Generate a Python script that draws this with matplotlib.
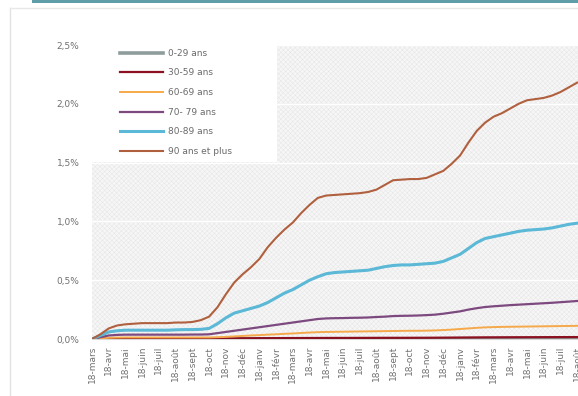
import numpy as np
import matplotlib
matplotlib.use("Agg")
import matplotlib.pyplot as plt
from matplotlib.patches import Rectangle
from matplotlib.lines import Line2D
from matplotlib.ticker import FuncFormatter

# x positions in "tick units" (one tick per label), half-tick resolution
t = np.arange(0, 29.5, 0.5)

months = ["mars", "avr", "mai", "juin", "juil", "août", "sept", "oct", "nov", "déc",
          "janv", "févr"]
tick_labels = ["18-" + months[i % 12] for i in range(30)]

series_names = ["0-29 ans", "30-59 ans", "60-69 ans", "70- 79 ans", "80-89 ans", "90 ans et plus"]
series_colors = ["#8e9c9c", "#8b1020", "#f5a94a", "#7d4a80", "#5bb8d6", "#b0603e"]
series_widths = [2.6, 1.6, 1.4, 1.6, 2.2, 1.5]

# values in % of the age group
v_0_29 = [0.0] + [0.0004] * 58

v_30_59 = [0, 0.002, 0.003, 0.004, 0.004, 0.004, 0.004, 0.004, 0.004, 0.004,
           0.004, 0.004, 0.004, 0.004, 0.004, 0.0045, 0.005, 0.0055, 0.006, 0.0065,
           0.007, 0.0072, 0.0075, 0.0078, 0.008, 0.0082, 0.0084, 0.0086, 0.0088, 0.009,
           0.009, 0.0092, 0.0094, 0.0096, 0.0098, 0.01, 0.01, 0.01, 0.0102, 0.0104,
           0.0106, 0.011, 0.0115, 0.012, 0.0125, 0.013, 0.0135, 0.014, 0.0142, 0.0145,
           0.0148, 0.015, 0.0152, 0.0154, 0.0156, 0.0158, 0.016, 0.0162, 0.0164]

v_60_69 = [0, 0.005, 0.01, 0.012, 0.013, 0.013, 0.013, 0.013, 0.013, 0.013,
           0.013, 0.013, 0.013, 0.013, 0.013, 0.015, 0.018, 0.022, 0.026, 0.03,
           0.033, 0.037, 0.04, 0.044, 0.047, 0.051, 0.055, 0.058, 0.06, 0.061,
           0.062, 0.063, 0.064, 0.065, 0.066, 0.067, 0.068, 0.069, 0.07, 0.07,
           0.071, 0.073, 0.076, 0.08, 0.085, 0.09, 0.095, 0.099, 0.101, 0.103,
           0.104, 0.105, 0.106, 0.107, 0.108, 0.109, 0.11, 0.111, 0.112]

v_70_79 = [0, 0.015, 0.03, 0.035, 0.037, 0.037, 0.037, 0.037, 0.037, 0.037,
           0.037, 0.037, 0.038, 0.038, 0.04, 0.05, 0.06, 0.07, 0.08, 0.09,
           0.1, 0.11, 0.12, 0.13, 0.14, 0.15, 0.16, 0.17, 0.175, 0.177,
           0.178, 0.18, 0.181, 0.183, 0.187, 0.19, 0.195, 0.197, 0.198, 0.2,
           0.203, 0.207, 0.215, 0.225, 0.235, 0.25, 0.262, 0.272, 0.278, 0.283,
           0.288, 0.292, 0.296, 0.3, 0.304, 0.308, 0.313, 0.318, 0.323]

v_80_89 = [0, 0.03, 0.06, 0.07, 0.075, 0.075, 0.075, 0.075, 0.075, 0.075,
           0.078, 0.08, 0.08, 0.082, 0.09, 0.13, 0.18, 0.22, 0.24, 0.26,
           0.28, 0.31, 0.35, 0.39, 0.42, 0.46, 0.5, 0.53, 0.555, 0.565,
           0.57, 0.575, 0.58, 0.585, 0.6, 0.615, 0.625, 0.63, 0.63, 0.635,
           0.64, 0.645, 0.66, 0.69, 0.72, 0.77, 0.82, 0.855, 0.87, 0.885,
           0.9, 0.915, 0.925, 0.93, 0.935, 0.945, 0.96, 0.975, 0.985]

v_90_plus = [0, 0.04, 0.09, 0.115, 0.125, 0.13, 0.135, 0.135, 0.135, 0.135,
             0.14, 0.14, 0.145, 0.16, 0.19, 0.27, 0.38, 0.48, 0.55, 0.61,
             0.68, 0.78, 0.86, 0.93, 0.99, 1.07, 1.14, 1.2, 1.22, 1.225,
             1.23, 1.235, 1.24, 1.25, 1.27, 1.31, 1.35, 1.355, 1.36, 1.36,
             1.37, 1.4, 1.43, 1.49, 1.56, 1.67, 1.77, 1.84, 1.89, 1.92,
             1.96, 2.0, 2.03, 2.04, 2.05, 2.07, 2.1, 2.14, 2.18]

series = [v_0_29, v_30_59, v_60_69, v_70_79, v_80_89, v_90_plus]

plt.rcParams["hatch.linewidth"] = 0.25

W, H = 578, 396
fig = plt.figure(figsize=(W / 100, H / 100), dpi=100)
fig.patch.set_facecolor("white")

ax = fig.add_axes([92 / W, 1 - 339 / H, 1 - 92 / W, (339 - 45) / H])
ax.set_facecolor("#f6f6f6")
ax.add_patch(Rectangle((0, 0), 1, 1, transform=ax.transAxes, facecolor="none",
                       edgecolor="#e0e0e0", hatch="xxxxxxx", lw=0, zorder=0))

for y in [0.5, 1.0, 1.5, 2.0, 2.5]:
    ax.axhline(y, color="white", lw=1.0, zorder=1)

for vals, name, col, lw in zip(series, series_names, series_colors, series_widths):
    ax.plot(t, vals, color=col, lw=lw, label=name, zorder=3)

ax.set_xlim(0, 29.05)
ax.set_ylim(0, 2.5)
ax.set_yticks([0, 0.5, 1.0, 1.5, 2.0, 2.5])
ax.yaxis.set_major_formatter(FuncFormatter(lambda v, p: ("%.1f%%" % v).replace(".", ",")))
ax.set_xticks(np.arange(30))
ax.set_xticklabels(tick_labels, rotation=90, va="top", ha="center")
ax.tick_params(axis="both", length=0, labelsize=6.5, colors="#707070")
ax.tick_params(axis="y", pad=9)
ax.tick_params(axis="x", pad=5)
for s in ["top", "right", "left"]:
    ax.spines[s].set_visible(False)
ax.spines["bottom"].set_color("#d8d8d8")
ax.spines["bottom"].set_linewidth(0.8)

# white box behind legend
ax.add_patch(Rectangle((0, (339 - 162) / (339 - 45)), (277 - 92) / (578 - 92), 1.2,
                       transform=ax.transAxes, facecolor="white", edgecolor="none",
                       zorder=2, clip_on=False))

leg = ax.legend(loc="upper left", bbox_to_anchor=(0.04, 1.015), frameon=False,
                fontsize=6.5, handlelength=4.8, handletextpad=0.6, labelspacing=1.18,
                labelcolor="#6a6a6a")
leg.set_zorder(4)

# chart frame and top band
fig.add_artist(Line2D([10 / W, 10 / W], [0, 1 - 8 / H], color="#e2e2e2", lw=1.0))
fig.add_artist(Line2D([10 / W, 1], [1 - 8 / H, 1 - 8 / H], color="#e8e8e8", lw=1.0))
fig.add_artist(Rectangle((32 / W, 1 - 3 / H), 1, 3 / H, facecolor="#5f9ea8",
                         edgecolor="none"))

fig.savefig("out.png", dpi=100)
